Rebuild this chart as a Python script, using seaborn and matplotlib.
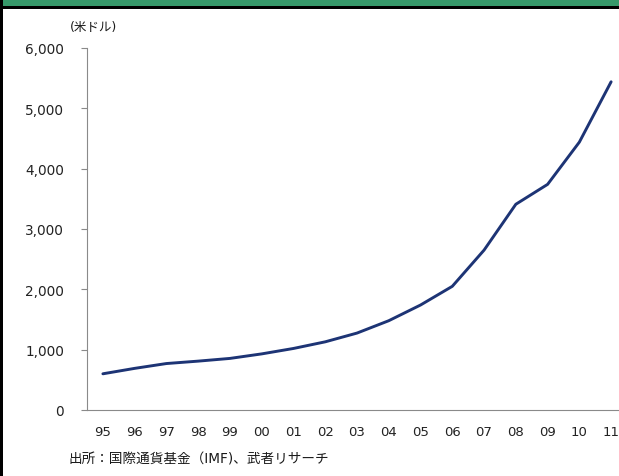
import matplotlib
matplotlib.use("Agg")
import matplotlib.pyplot as plt
from matplotlib.patches import Rectangle
from matplotlib.ticker import FuncFormatter
import numpy as np
import pandas as pd
import seaborn as sns

# Foreign exchange reserves by year
years = ["95", "96", "97", "98", "99", "00", "01", "02", "03",
         "04", "05", "06", "07", "08", "09", "10", "11"]
reserves = [600, 690, 770, 810, 855, 930, 1020, 1130, 1275,
            1480, 1740, 2050, 2650, 3410, 3740, 4440, 5440]
y_ticks = [0, 1000, 2000, 3000, 4000, 5000, 6000]

unit_label = "(米ドル)"
source_note = "出所：国際通貨基金（IMF)、武者リサーチ"

sns.set_theme(style="white")
plt.rcParams["font.family"] = ["DejaVu Sans", "Noto Sans CJK JP"]

W, H = 619, 477
fig = plt.figure(figsize=(W / 100, H / 100), dpi=100)
fig.patch.set_facecolor("white")

# header band and frame
fig.patches.append(Rectangle((0, 1 - 7 / H), 1, 7 / H, transform=fig.transFigure,
                             facecolor="#36996a", edgecolor="none", zorder=0))
fig.patches.append(Rectangle((0, 1 - 9.5 / H), 1, 2.5 / H, transform=fig.transFigure,
                             facecolor="black", edgecolor="none", zorder=0))
fig.patches.append(Rectangle((0, 0), 2.5 / W, 1, transform=fig.transFigure,
                             facecolor="black", edgecolor="none", zorder=0))

left, right, bottom, top = 87, 627, 411, 49
ax = fig.add_axes([left / W, 1 - bottom / H, (right - left) / W, (bottom - top) / H])
ax.set_facecolor("white")

df = pd.DataFrame({"idx": np.arange(len(years)), "value": reserves})
sns.lineplot(data=df, x="idx", y="value", ax=ax, color="#1d3475",
             linewidth=2.1, solid_joinstyle="round")

ax.set_xlim(-0.5, len(years) - 0.5)
ax.set_ylim(0, 6000)
ax.set_xlabel("")
ax.set_ylabel("")

ax.set_xticks(np.arange(len(years)))
ax.set_xticklabels(years)
ax.set_xticks(np.arange(len(years) + 1) - 0.5, minor=True)
ax.tick_params(axis="x", which="major", length=0, pad=10.5, labelsize=9.5, colors="#222222")
ax.tick_params(axis="x", which="minor", length=4.5, width=0.8, color="#8a8a8a", direction="out")

ax.set_yticks(y_ticks)
ax.yaxis.set_major_formatter(FuncFormatter(lambda v, p: f"{int(v):,}"))
ax.tick_params(axis="y", length=4.5, width=0.8, color="#8a8a8a", direction="out",
               pad=12, labelsize=9.8, labelcolor="#222222")
ax.tick_params(axis="both", bottom=True, left=True)

for side in ("top", "right"):
    ax.spines[side].set_visible(False)
for side in ("left", "bottom"):
    ax.spines[side].set_color("#8a8a8a")
    ax.spines[side].set_linewidth(0.8)
ax.grid(False)

fig.text(70 / W, 1 - 28 / H, unit_label, fontsize=9, color="#1a1a1a",
         ha="left", va="center")
fig.text(68 / W, 1 - 460 / H, source_note, fontsize=9.8, color="#1a1a1a",
         ha="left", va="center")

fig.savefig("out.png", dpi=100, facecolor="white")
